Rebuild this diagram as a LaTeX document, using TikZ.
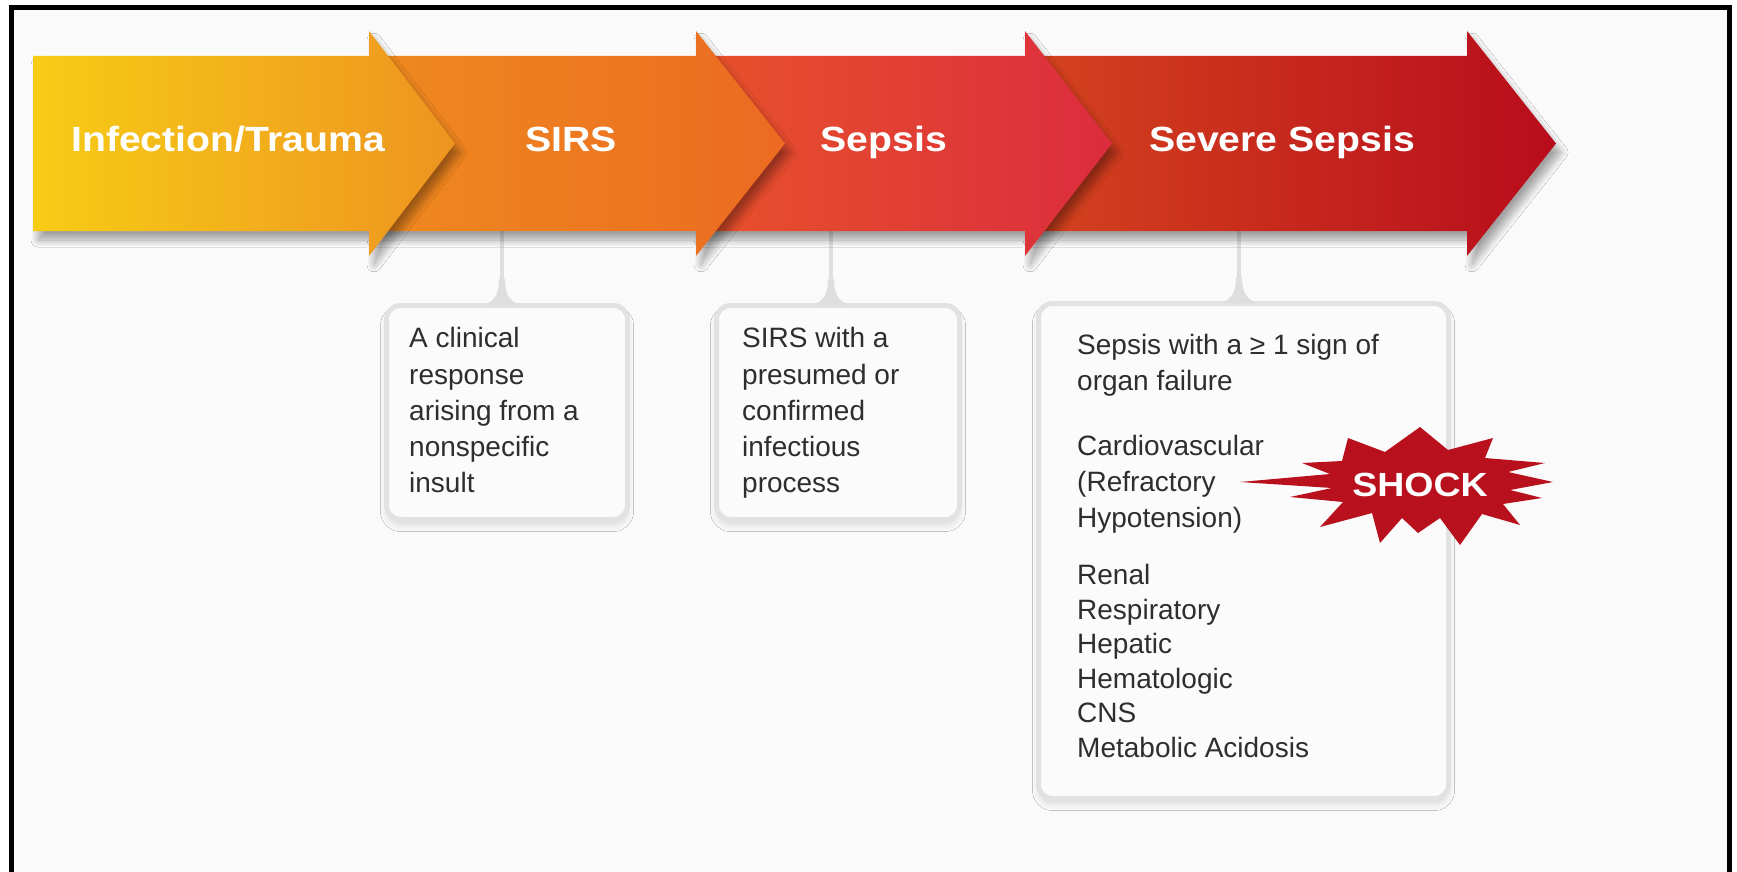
\documentclass[tikz,border=0pt]{standalone}
\usepackage{fontspec}
\setmainfont{Liberation Sans}
\newfontfamily\titlefont{Liberation Sans}[FakeStretch=1.12]
\usetikzlibrary{shadows.blur,calc}
\definecolor{bgc}{HTML}{FAFAFA}
\definecolor{boxline}{HTML}{E2E2E2}
\definecolor{boxfill}{HTML}{FBFBFB}
\definecolor{pinc}{HTML}{DEDEDE}
\definecolor{bodytext}{HTML}{2E2E2E}
\definecolor{burst}{HTML}{B8101C}
\definecolor{aY}{HTML}{F7CC16}
\definecolor{aYO}{HTML}{F2A51C}
\definecolor{aO1}{HTML}{EE9420}
\definecolor{aO2}{HTML}{EE8A1F}
\definecolor{aO3}{HTML}{EC6A21}
\definecolor{aR1}{HTML}{E7522A}
\definecolor{aR2}{HTML}{E23A34}
\definecolor{aR3}{HTML}{DC2C3E}
\definecolor{aD1}{HTML}{D4441E}
\definecolor{aD2}{HTML}{C0121E}
\definecolor{aD3}{HTML}{B80C1C}
\tikzset{
  seg/.style={blur shadow={shadow xshift=5pt, shadow yshift=-9pt, shadow blur radius=7pt, shadow blur steps=10, shadow opacity=35}},
  ttl/.style={text=white, font=\titlefont\bfseries\fontsize{35}{40}\selectfont, anchor=base, inner sep=0pt},
  infobox/.style={draw=boxline, line width=5pt, fill=boxfill, rounded corners=14pt, anchor=north west, inner sep=0pt,
    blur shadow={shadow xshift=0pt, shadow yshift=-6pt, shadow blur radius=6pt, shadow opacity=12}},
  body/.style={text=bodytext, font=\fontsize{28}{36.25}\selectfont, align=left, anchor=north west, inner sep=0pt},
  pinline/.style={draw=pinc, line width=4.5pt},
  pinflare/.style={fill=pinc},
}
\begin{document}
\begin{tikzpicture}[x=1pt,y=-1pt]
\useasboundingbox (0,0) rectangle (1737,872);
% background and frame
\fill[white] (0,0) rectangle (1737,872);
\fill[bgc] (14,10) rectangle (1727,872);
\draw[line width=5pt, line join=miter] (11.5,872) -- (11.5,7.5) -- (1729.5,7.5) -- (1729.5,872);

% information boxes
\node[infobox, minimum width=241pt, minimum height=214pt] (b1) at (384,303) {};
\node[infobox, minimum width=243pt, minimum height=214pt] (b2) at (714,303) {};
\node[infobox, minimum width=410pt, minimum height=495pt] (b3) at (1036,301) {};

% connector anchor points under the arrow
\coordinate (c1) at (502,200);
\coordinate (c2) at (831,200);
\coordinate (c3) at (1239,200);

\foreach \c/\b in {c1/b1, c2/b2, c3/b3}{
  \draw[pinline] (\c) -- (\b.north -| \c);
  \begin{scope}[shift={(\b.north -| \c)}]
    \fill[pinflare] (-18,2) .. controls (-6,-2) and (-3,-11) .. (-3,-24) -- (3,-24) .. controls (3,-11) and (6,-2) .. (18,2) -- cycle;
  \end{scope}
}

% arrow segments (drawn back to front)
\path[seg, left color=aD1, middle color=aD2, right color=aD3]
  (1025,56) -- (1467,56) -- (1467,31) -- (1556,143.5) -- (1467,256) -- (1467,231) -- (1025,231) -- cycle;
\path[seg, left color=aR1, middle color=aR2, right color=aR3]
  (696,56) -- (1025,56) -- (1025,31) -- (1112,143.5) -- (1025,256) -- (1025,231) -- (696,231) -- cycle;
\path[seg, left color=aO2, right color=aO3]
  (369,56) -- (696,56) -- (696,31) -- (785,143.5) -- (696,256) -- (696,231) -- (369,231) -- cycle;
\path[seg, left color=aY, middle color=aYO, right color=aO1]
  (33,56) -- (369,56) -- (369,31) -- (455,143.5) -- (369,256) -- (369,231) -- (33,231) -- cycle;

% arrow titles
\node[ttl] (tinf) at (228,152) {Infection/Trauma};
\node[ttl] (tsirs) at (571,152) {SIRS};
\node[ttl] (tsep) at (884,152) {Sepsis};
\node[ttl] (tsev) at (1282,152) {Severe Sepsis};

% box texts
\node[body] (x1) at (409,327.5) {A clinical\\response\\arising from a\\nonspecific\\insult};
\node[body] (x2) at (742,327.5) {SIRS with a\\presumed or\\confirmed\\infectious\\process};
\node[body, font=\fontsize{28}{36}\selectfont] (x3a) at (1077,334.5) {Sepsis with a ≥ 1 sign of\\organ failure};
\node[body, font=\fontsize{28}{36}\selectfont] (x3b) at (1077,435.5) {Cardiovascular\\(Refractory\\Hypotension)};
\node[body, font=\fontsize{28}{34.5}\selectfont] (x3c) at (1077,564.5) {Renal\\Respiratory\\Hepatic\\Hematologic\\CNS\\Metabolic Acidosis};

% SHOCK starburst
\fill[burst] (1240,482) -- (1330,474) -- (1302,463) -- (1342,461) -- (1348,438) -- (1385,452)
  -- (1420,427) -- (1448,450) -- (1493,438) -- (1485,458) -- (1545,463) -- (1508,472)
  -- (1553,482) -- (1510,490) -- (1542,498) -- (1503,504) -- (1520,525) -- (1482,514)
  -- (1460,545) -- (1440,518) -- (1418,533) -- (1402,518) -- (1380,543) -- (1372,513)
  -- (1320,527) -- (1343,502) -- (1290,497) -- (1332,488) -- cycle;
\node[ttl, font=\titlefont\bfseries\fontsize{33.5}{38}\selectfont] (shock) at (1420,496) {SHOCK};
\end{tikzpicture}
\end{document}
